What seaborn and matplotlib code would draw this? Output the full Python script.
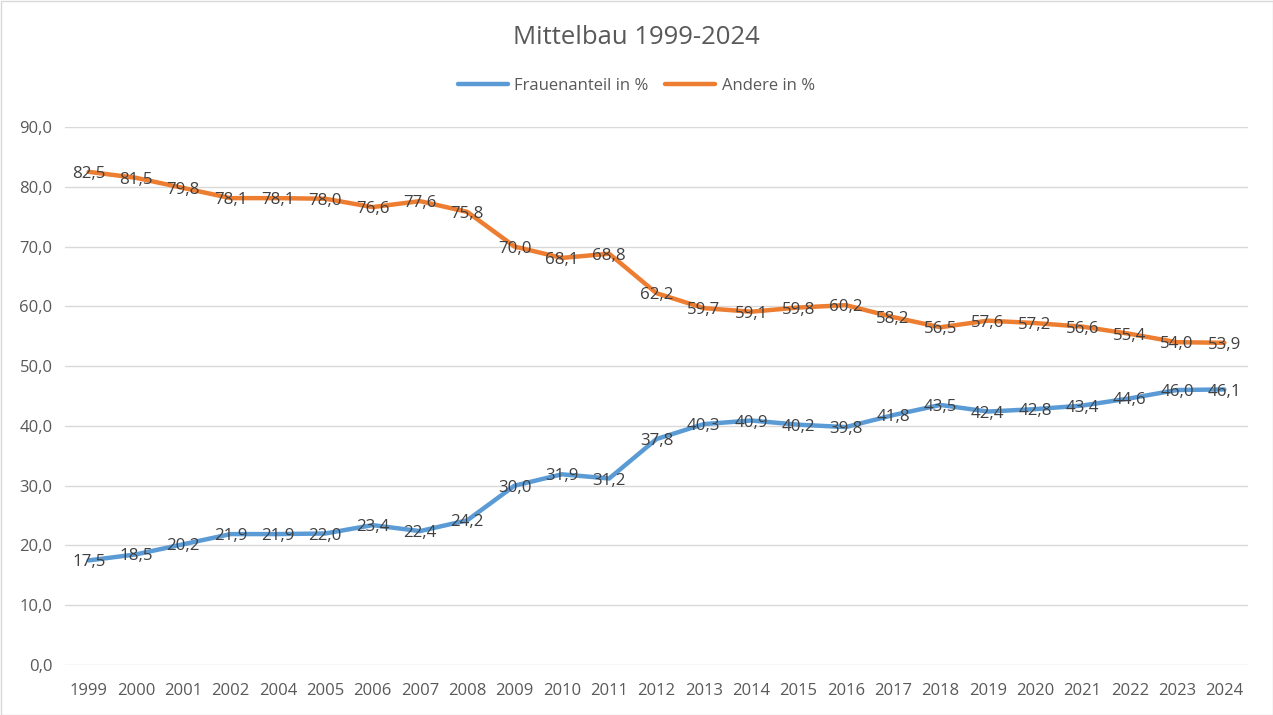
import matplotlib
matplotlib.use("Agg")
import matplotlib.pyplot as plt
import seaborn as sns
import pandas as pd
from matplotlib.patches import Rectangle

years = ["1999", "2000", "2001", "2002", "2004", "2005", "2006", "2007", "2008", "2009",
         "2010", "2011", "2012", "2013", "2014", "2015", "2016", "2017", "2018", "2019",
         "2020", "2021", "2022", "2023", "2024"]
frauen = [17.5, 18.5, 20.2, 21.9, 21.9, 22.0, 23.4, 22.4, 24.2, 30.0, 31.9, 31.2, 37.8,
          40.3, 40.9, 40.2, 39.8, 41.8, 43.5, 42.4, 42.8, 43.4, 44.6, 46.0, 46.1]
andere = [82.5, 81.5, 79.8, 78.1, 78.1, 78.0, 76.6, 77.6, 75.8, 70.0, 68.1, 68.8, 62.2,
          59.7, 59.1, 59.8, 60.2, 58.2, 56.5, 57.6, 57.2, 56.6, 55.4, 54.0, 53.9]
series_names = ["Frauenanteil in %", "Andere in %"]
colors = ["#5B9BD5", "#ED7D31"]
yticks = [0, 10, 20, 30, 40, 50, 60, 70, 80, 90]

sns.set_theme(style="white")
plt.rcParams['font.family'] = ['Open Sans', 'DejaVu Sans']

idx = list(range(len(years)))
df = pd.DataFrame({
    "x": idx * 2,
    "value": frauen + andere,
    "series": [series_names[0]] * len(years) + [series_names[1]] * len(years),
})

fig = plt.figure(figsize=(12.73, 7.15), dpi=100)
ax = fig.add_axes([65 / 1273, 1 - 665 / 715, (1248 - 65) / 1273, (665 - 127) / 715])

sns.lineplot(data=df, x="x", y="value", hue="series", palette=colors, linewidth=3.2,
             ax=ax, legend=False, solid_capstyle="round")

txt = "#404040"
for vals in (frauen, andere):
    for i, v in enumerate(vals):
        ax.annotate(f"{v:.1f}".replace(".", ","), (i, v), xytext=(0, -1.5),
                    textcoords="offset points", ha="center", va="center",
                    fontsize=12.2, color=txt)

ax.set_xlim(-0.5, len(years) - 0.5)
ax.set_ylim(0, 90)
ax.set_yticks(yticks)
ax.set_yticklabels([f"{t:.1f}".replace(".", ",") for t in yticks])
ax.set_xticks(idx)
ax.set_xticklabels(years)
ax.tick_params(axis="y", labelsize=12, colors="#595959", length=0, pad=9)
ax.tick_params(axis="x", labelsize=12, colors="#595959", length=0, pad=13)
ax.grid(axis="y", color="#D9D9D9", linewidth=1)
ax.set_axisbelow(True)
for s in ax.spines.values():
    s.set_visible(False)
ax.set_xlabel("")
ax.set_ylabel("")

fig.text(0.5, 1 - 37 / 715, "Mittelbau 1999-2024", ha="center", va="center",
         fontsize=18.5, color="#595959")

handles = [plt.Line2D([0], [0], color=c, linewidth=3.2, solid_capstyle="round") for c in colors]
fig.legend(handles, series_names, loc="center", bbox_to_anchor=(0.5, 1 - 86 / 715), ncol=2,
           frameon=False, fontsize=12, labelcolor="#595959", handlelength=3,
           columnspacing=1.0, handletextpad=0.4)

fig.patches.append(Rectangle((0.5 / 1273, 0.5 / 715), 1 - 1 / 1273, 1 - 1 / 715,
                             transform=fig.transFigure, fill=False,
                             edgecolor="#D9D9D9", linewidth=1))

fig.savefig("out.png", dpi=100)
